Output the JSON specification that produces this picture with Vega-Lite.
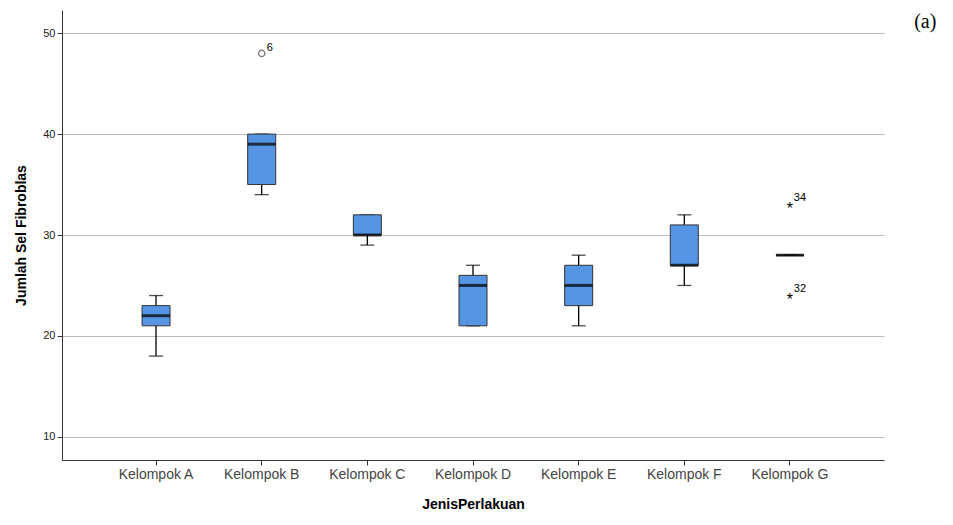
{
  "$schema": "https://vega.github.io/schema/vega-lite/v6.json",
  "width": 822,
  "height": 450,
  "autosize": {"type": "none"},
  "padding": {"left": 62, "top": 10, "right": 71, "bottom": 65},
  "background": "white",
  "config": {"view": {"stroke": null}, "font": "Liberation Sans"},
  "title": {"text": "(a)", "orient": "right", "anchor": "start", "angle": 0, "align": "left", "font": "Liberation Serif", "fontSize": 20, "fontWeight": "normal", "offset": 34, "dx": -26, "dy": 2},
  "datasets": {
    "boxes": [
      {"grup": "Kelompok A", "min": 18, "q1": 21, "med": 22, "q3": 23, "max": 24},
      {"grup": "Kelompok B", "min": 34, "q1": 35, "med": 39, "q3": 40, "max": 40},
      {"grup": "Kelompok C", "min": 29, "q1": 30, "med": 30, "q3": 32, "max": 32},
      {"grup": "Kelompok D", "min": 21, "q1": 21, "med": 25, "q3": 26, "max": 27},
      {"grup": "Kelompok E", "min": 21, "q1": 23, "med": 25, "q3": 27, "max": 28},
      {"grup": "Kelompok F", "min": 25, "q1": 27, "med": 27, "q3": 31, "max": 32},
      {"grup": "Kelompok G", "min": 28, "q1": 28, "med": 28, "q3": 28, "max": 28}
    ],
    "outliers": [
      {"grup": "Kelompok B", "nilai": 48, "id": "6"}
    ],
    "ekstrem": [
      {"grup": "Kelompok G", "nilai": 33, "id": "34"},
      {"grup": "Kelompok G", "nilai": 24, "id": "32"}
    ]
  },
  "encoding": {
    "x": {
      "field": "grup", "type": "nominal", "title": "JenisPerlakuan",
      "sort": null,
      "scale": {"paddingInner": 0.1, "paddingOuter": 0.44},
      "axis": {"labelAngle": 0, "labelFontSize": 14, "labelColor": "#444", "titleFontSize": 14, "titleFontWeight": "bold", "titlePadding": 16, "domainColor": "#333", "tickColor": "#333", "grid": false}
    }
  },
  "layer": [
    {
      "data": {"name": "boxes"},
      "mark": {"type": "rule", "color": "black", "strokeWidth": 1.3},
      "encoding": {
        "y": {"field": "min", "type": "quantitative", "title": "Jumlah Sel Fibroblas",
          "scale": {"domain": [7.7, 52.3], "nice": false, "zero": false},
          "axis": {"values": [10, 20, 30, 40, 50], "labelFontSize": 11, "labelColor": "#222", "titleFontSize": 14, "titleFontWeight": "bold", "titlePadding": 14, "gridColor": "#bbb", "domainColor": "#333", "tickColor": "#333"}},
        "y2": {"field": "max"}
      }
    },
    {
      "data": {"name": "boxes"},
      "mark": {"type": "tick", "color": "black", "size": 14, "thickness": 1.3},
      "encoding": {"y": {"field": "min", "type": "quantitative"}}
    },
    {
      "data": {"name": "boxes"},
      "mark": {"type": "tick", "color": "black", "size": 14, "thickness": 1.3},
      "encoding": {"y": {"field": "max", "type": "quantitative"}}
    },
    {
      "data": {"name": "boxes"},
      "mark": {"type": "bar", "size": 28, "fill": "#5595e3", "stroke": "#333", "strokeWidth": 1},
      "encoding": {"y": {"field": "q1", "type": "quantitative"}, "y2": {"field": "q3"}}
    },
    {
      "data": {"name": "boxes"},
      "mark": {"type": "tick", "color": "black", "size": 28, "thickness": 3},
      "encoding": {"y": {"field": "med", "type": "quantitative"}}
    },
    {
      "data": {"name": "outliers"},
      "mark": {"type": "point", "shape": "circle", "size": 40, "stroke": "#333", "strokeWidth": 1.2, "filled": false},
      "encoding": {"y": {"field": "nilai", "type": "quantitative"}}
    },
    {
      "data": {"name": "ekstrem"},
      "mark": {"type": "text", "text": "*", "fontSize": 16, "baseline": "middle", "dy": 4},
      "encoding": {"y": {"field": "nilai", "type": "quantitative"}}
    },
    {
      "layer": [
        {"data": {"name": "outliers"}, "mark": {"type": "text", "fontSize": 11, "dx": 8, "dy": -5, "align": "center"},
          "encoding": {"y": {"field": "nilai", "type": "quantitative"}, "text": {"field": "id"}}},
        {"data": {"name": "ekstrem"}, "mark": {"type": "text", "fontSize": 11, "dx": 10, "dy": -7, "align": "center"},
          "encoding": {"y": {"field": "nilai", "type": "quantitative"}, "text": {"field": "id"}}}
      ]
    }
  ]
}
